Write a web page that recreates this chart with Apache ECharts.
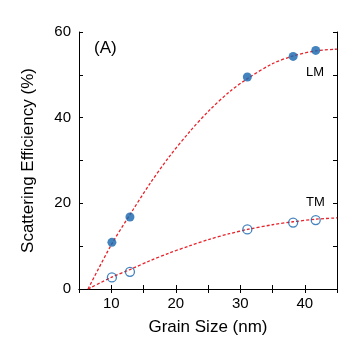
<!DOCTYPE html>
<html><head><meta charset="utf-8">
<script src="https://cdn.jsdelivr.net/npm/echarts@6/dist/echarts.min.js"></script>
<style>html,body{margin:0;padding:0;background:#fff}#c{width:356px;height:346px}</style>
</head><body><div id="c"></div>
<script>
// measured points
const grainSize = [10.1, 12.9, 31.1, 38.2, 41.7];
const lmValues = [10.9, 16.8, 49.5, 54.3, 55.7];
const tmValues = [2.7, 4.0, 13.9, 15.5, 16.1];
// fitted curves
const fitX   = [6.4, 10, 13, 16, 19, 22.2, 25.2, 28.3, 31.1, 35, 38.2, 41.7, 45];
const lmFit  = [0, 10.3, 17.6, 24.6, 30.9, 36.8, 41.7, 46.0, 49.1, 52.6, 54.4, 55.6, 56.0];
const tmFit  = [0, 2.7, 4.6, 6.6, 8.4, 10.1, 11.6, 12.9, 13.9, 15.0, 15.7, 16.3, 16.6];
const xTicks = [10, 20, 30, 40];
const yTicks = [0, 20, 40, 60];

const zip = (a, b) => a.map((v, i) => [v, b[i]]);
const font = 'Liberation Sans, Arial, sans-serif';
const chart = echarts.init(document.getElementById('c'), null, {renderer: 'canvas'});
const axisCommon = {
  axisLine: {show: true, lineStyle: {color: '#000', width: 1}},
  axisTick: {show: true, inside: true, length: 4, lineStyle: {color: '#000'}},
  splitLine: {show: false}
};
chart.setOption({
  animation: false,
  grid: {left: 79, top: 32, right: 19, bottom: 57, containLabel: false},
  xAxis: [
    Object.assign({type: 'value', min: 5, max: 45, interval: 5, position: 'bottom',
      name: 'Grain Size (nm)', nameLocation: 'middle', nameGap: 30,
      nameTextStyle: {fontFamily: font, fontSize: 17, color: '#000'},
      axisLabel: {fontFamily: font, fontSize: 15, color: '#000', margin: 7,
        formatter: v => xTicks.includes(v) ? String(v) : ''}}, axisCommon),
    Object.assign({type: 'value', min: 5, max: 45, interval: 5, position: 'top',
      axisLabel: {show: false}}, axisCommon)
  ],
  yAxis: [
    Object.assign({type: 'value', min: 0, max: 60, interval: 10, position: 'left',
      name: 'Scattering Efficiency (%)', nameLocation: 'middle', nameGap: 42,
      nameTextStyle: {fontFamily: font, fontSize: 17, color: '#000'},
      axisLabel: {fontFamily: font, fontSize: 15, color: '#000', margin: 8,
        formatter: v => yTicks.includes(v) ? String(v) : ''}}, axisCommon),
    Object.assign({type: 'value', min: 0, max: 60, interval: 10, position: 'right',
      axisLabel: {show: false}}, axisCommon)
  ],
  series: [
    {type: 'line', data: zip(fitX, lmFit), smooth: 0.3, symbol: 'none',
      lineStyle: {color: '#e8232b', width: 1.3, type: [3, 2]}, z: 2},
    {type: 'line', data: zip(fitX, tmFit), smooth: 0.3, symbol: 'none',
      lineStyle: {color: '#e8232b', width: 1.3, type: [3, 2]}, z: 2},
    {type: 'scatter', data: zip(grainSize, lmValues), symbol: 'circle', symbolSize: 9,
      itemStyle: {color: '#1565ae'}, z: 3},
    {type: 'scatter', data: zip(grainSize, tmValues), symbol: 'circle', symbolSize: 9,
      itemStyle: {color: 'rgba(255,255,255,0)', borderColor: '#1565ae', borderWidth: 1.3}, z: 3}
  ],
  graphic: [
    {type: 'text', left: 94, top: 40, style: {text: '(A)', font: '17px ' + font, fill: '#000'}},
    {type: 'text', left: 306, top: 66, style: {text: 'LM', font: '13px ' + font, fill: '#000'}},
    {type: 'text', left: 306, top: 196, style: {text: 'TM', font: '13px ' + font, fill: '#000'}}
  ]
});
</script></body></html>
